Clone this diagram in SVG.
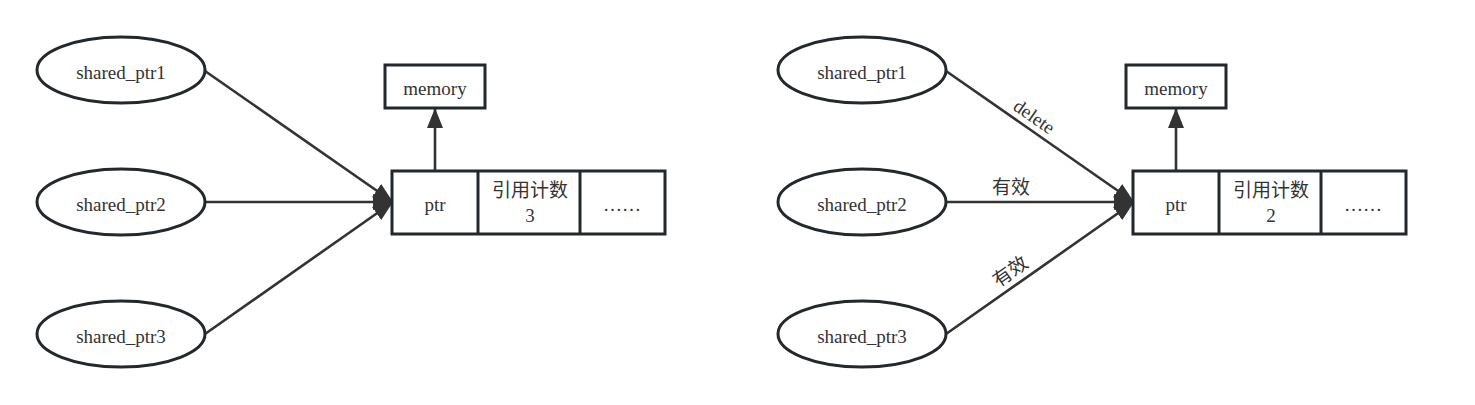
<svg xmlns="http://www.w3.org/2000/svg" width="1475" height="405" viewBox="0 0 1475 405">
<style>
.ell{fill:#fff;stroke:#23282d;stroke-width:3}
.box{fill:#fff;stroke:#23282d;stroke-width:3}
.ln{stroke:#333;stroke-width:2.6;fill:none}
.t{font-family:"Liberation Serif",serif;font-size:19px;fill:#333;text-anchor:middle}
.c{font-family:"Noto Sans CJK SC","Liberation Sans",sans-serif;font-size:19px;fill:#333;text-anchor:middle}
</style>
<defs>
<marker id="arr" markerUnits="userSpaceOnUse" markerWidth="22" markerHeight="18" refX="20" refY="9" orient="auto">
<path d="M0,1 L20,9 L0,17 Z" fill="#333"/>
</marker>
</defs>
<rect width="1475" height="405" fill="#fff"/>
<g id="connectors">
<line class="ln" x1="205" y1="71" x2="393" y2="202" marker-end="url(#arr)"/>
<line class="ln" x1="205" y1="202" x2="393" y2="202" marker-end="url(#arr)"/>
<line class="ln" x1="205" y1="334" x2="393" y2="202" marker-end="url(#arr)"/>
<line class="ln" x1="435" y1="171" x2="435" y2="108" marker-end="url(#arr)"/>
<line class="ln" x1="946" y1="71" x2="1134" y2="202" marker-end="url(#arr)"/>
<line class="ln" x1="946" y1="202" x2="1134" y2="202" marker-end="url(#arr)"/>
<line class="ln" x1="946" y1="334" x2="1134" y2="202" marker-end="url(#arr)"/>
<line class="ln" x1="1176" y1="171" x2="1176" y2="108" marker-end="url(#arr)"/>
<text class="t" transform="translate(1034,117) rotate(35)" y="6">delete</text>
<text class="c" x="1011" y="194">有效</text>
<text class="c" transform="translate(1010,271) rotate(-35)" y="7">有效</text>
</g>
<g id="l-ptr1"><ellipse class="ell" cx="121" cy="70" rx="84" ry="33"/><text class="t" x="121" y="79">shared_ptr1</text></g>
<g id="l-ptr2"><ellipse class="ell" cx="121" cy="202" rx="84" ry="33"/><text class="t" x="121" y="211">shared_ptr2</text></g>
<g id="l-ptr3"><ellipse class="ell" cx="121" cy="334" rx="84" ry="33"/><text class="t" x="121" y="343">shared_ptr3</text></g>
<g id="l-memory"><rect class="box" x="385" y="65" width="100" height="43"/><text class="t" x="435" y="95">memory</text></g>
<g id="l-block">
<rect class="box" x="392" y="171" width="273" height="63"/>
<line class="box" x1="478" y1="171" x2="478" y2="234"/>
<line class="box" x1="580" y1="171" x2="580" y2="234"/>
<text class="t" x="435" y="211">ptr</text>
<text class="c" x="530" y="197">引用计数</text>
<text class="t" x="530" y="222">3</text>
<text class="t" x="622" y="211">……</text>
</g>
<g id="r-ptr1"><ellipse class="ell" cx="862" cy="70" rx="84" ry="33"/><text class="t" x="862" y="79">shared_ptr1</text></g>
<g id="r-ptr2"><ellipse class="ell" cx="862" cy="202" rx="84" ry="33"/><text class="t" x="862" y="211">shared_ptr2</text></g>
<g id="r-ptr3"><ellipse class="ell" cx="862" cy="334" rx="84" ry="33"/><text class="t" x="862" y="343">shared_ptr3</text></g>
<g id="r-memory"><rect class="box" x="1126" y="65" width="100" height="43"/><text class="t" x="1176" y="95">memory</text></g>
<g id="r-block">
<rect class="box" x="1133" y="171" width="273" height="63"/>
<line class="box" x1="1219" y1="171" x2="1219" y2="234"/>
<line class="box" x1="1321" y1="171" x2="1321" y2="234"/>
<text class="t" x="1176" y="211">ptr</text>
<text class="c" x="1271" y="197">引用计数</text>
<text class="t" x="1271" y="222">2</text>
<text class="t" x="1363" y="211">……</text>
</g>
</svg>
